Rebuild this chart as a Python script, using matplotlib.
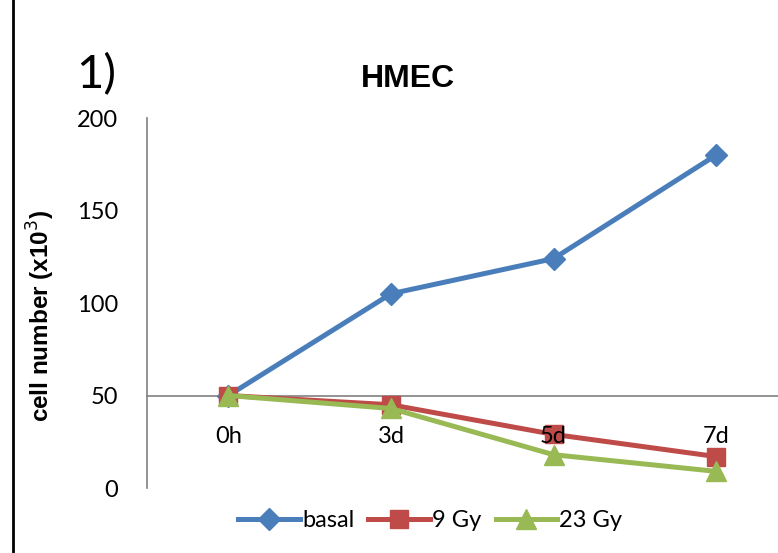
import matplotlib.pyplot as plt

plt.rcParams["font.family"] = ["Lato", "DejaVu Sans"]

timepoints = ["0h", "3d", "5d", "7d"]
basal = [50, 105, 124, 180]
gy9 = [50, 45, 29, 17]
gy23 = [50, 43, 18, 9]

fig = plt.figure(figsize=(7.78, 5.53), dpi=100)
ax = fig.add_axes([0.189, 0.1175, 0.811, 0.6691])

x = range(len(timepoints))
ax.plot(x, basal, color="#4A7EBB", lw=3.6, marker="D", ms=11, label="basal", clip_on=False)
ax.plot(x, gy9, color="#BE4B48", lw=3.6, marker="s", ms=13, label="9 Gy", clip_on=False)
ax.plot(x, gy23, color="#98B954", lw=3.6, marker="^", ms=14, label="23 Gy", clip_on=False)

ax.set_ylim(0, 200)
ax.set_xlim(-0.5, 3.38)
ax.set_yticks([0, 50, 100, 150, 200])
ax.set_xticks(list(x))
ax.set_xticklabels(timepoints)
ax.set_axisbelow(False)  # category labels drawn over the markers, as in Excel

# x axis crosses at 50
ax.spines["bottom"].set_position(("data", 50))
ax.spines["top"].set_visible(False)
ax.spines["right"].set_visible(False)
for s in ["bottom", "left"]:
    ax.spines[s].set_color("#808080")
    ax.spines[s].set_linewidth(1.2)
    ax.spines[s].set_zorder(1)

ax.tick_params(axis="both", length=0, labelsize=17)
ax.tick_params(axis="x", pad=22)
ax.tick_params(axis="y", pad=21)

ax.set_ylabel("cell number (x10$^3$)", fontsize=17.5, fontweight="bold",
              family="Liberation Sans")
ax.yaxis.set_label_coords(-0.143, 0.465)
fig.text(0.524, 0.857, "HMEC", fontsize=23, fontweight="bold", family="Liberation Sans",
         ha="center", va="center")
fig.text(0.124, 0.865, "1)", fontsize=34, ha="center", va="center")

fig.legend(loc="center", bbox_to_anchor=(0.553, 0.058), ncol=3, frameon=False,
           fontsize=17, handlelength=2.6, handletextpad=0.1, columnspacing=0.6)

# left border line of the panel
fig.add_artist(plt.Line2D([0.017, 0.017], [0.0, 1.0], color="black", lw=2))

fig.savefig("out.png", dpi=100)
